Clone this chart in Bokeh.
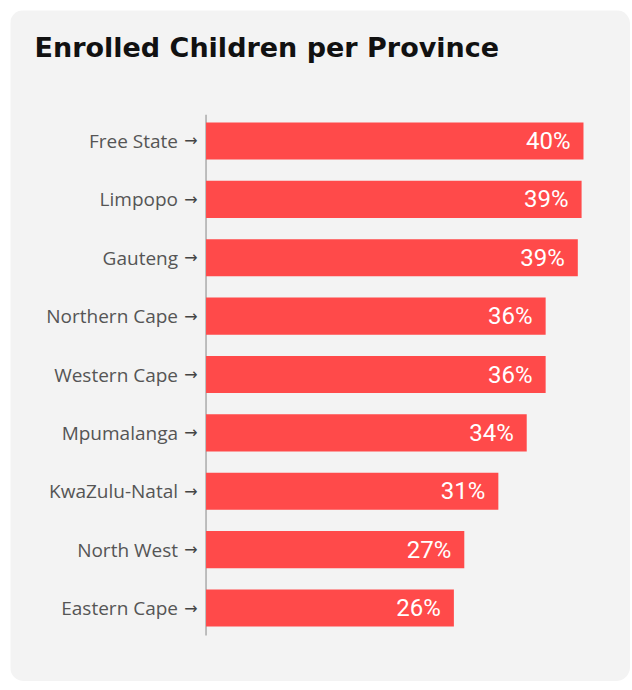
from bokeh.plotting import figure
from bokeh.models import Range1d, ColumnDataSource, Label
from bokeh.core.properties import value
from bokeh.embed import file_html
from bokeh.resources import INLINE

provinces = ["Free State", "Limpopo", "Gauteng", "Northern Cape", "Western Cape",
             "Mpumalanga", "KwaZulu-Natal", "North West", "Eastern Cape"]
shares = [39.9, 39.7, 39.3, 35.9, 35.9, 33.9, 30.9, 27.3, 26.2]
share_labels = ["40%", "39%", "39%", "36%", "36%", "34%", "31%", "27%", "26%"]
title_text = "Enrolled Children per Province"

n = len(provinces)
rank = list(range(n))
src = ColumnDataSource(dict(y=rank, cat=provinces, v=shares, lab=share_labels,
                            arrow=["\u2192"] * n, zero=[0] * n))

BG = "#f3f3f3"
W, H = 620, 671
p = figure(width=W, height=H, output_backend="svg", toolbar_location=None,
           x_range=Range1d(-20.67, 44.87), y_range=Range1d(9.259, -2.2355),
           min_border=0, background_fill_color=BG, border_fill_color=BG,
           outline_line_color=None)
p.margin = (10, 0, 0, 10)
p.styles = {"border-radius": "14px", "overflow": "hidden"}
p.axis.visible = False
p.grid.visible = False

# axis line
p.segment(x0=[0], y0=[-0.45], x1=[0], y1=[n - 0.53], line_color="#aaaaaa", line_width=1.5)

p.hbar(y="y", right="v", left=0, height=0.634, source=src,
       fill_color="#ff4a4a", line_color=None)
p.text(x="v", y="y", text="lab", source=src, x_offset=-13,
       text_align="right", text_baseline="middle", text_color="white",
       text_font=value("Roboto"), text_font_size="24px")
p.text(x="zero", y="y", text="arrow", source=src, x_offset=-15,
       text_align="center", text_baseline="middle", text_color="#444444",
       text_font=value("DejaVu Sans"), text_font_size="16px")
p.text(x="zero", y="y", text="cat", source=src, x_offset=-28,
       text_align="right", text_baseline="middle", text_color="#555555",
       text_font=value("Open Sans"), text_font_size="19px")

p.add_layout(Label(x=24, y=H - 21, x_units="screen", y_units="screen",
                   text=title_text, text_font="DejaVu Sans", text_font_size="27px",
                   text_font_style="bold", text_color="#111111",
                   text_baseline="top", text_align="left"))

open("out.html", "w").write(file_html(p, INLINE))
